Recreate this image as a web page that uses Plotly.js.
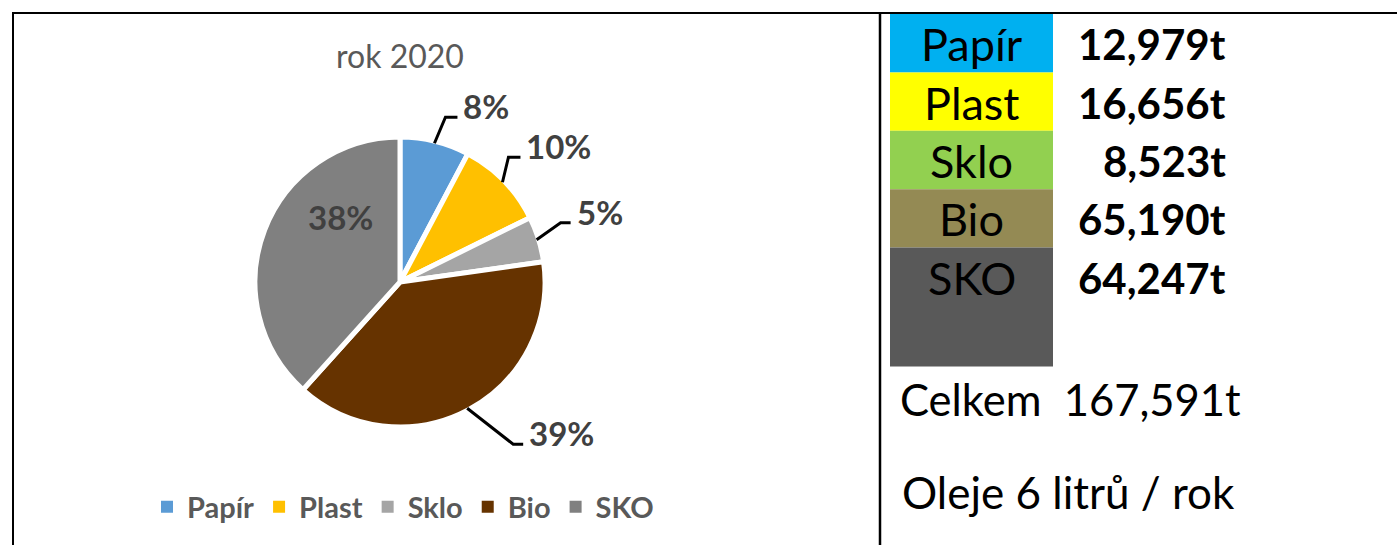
<!DOCTYPE html>
<html><head><meta charset="utf-8">
<script src="https://cdn.plot.ly/plotly-3.0.1.min.js"></script>
<style>html,body{margin:0;padding:0;background:#fff;overflow:hidden}</style>
</head><body><div id="chart" style="width:1397px;height:545px"></div>
<script>
// ---------- data ----------
const categories = ['Papír', 'Plast', 'Sklo', 'Bio', 'SKO'];
const tonnes = [12.979, 16.656, 8.523, 65.190, 64.247];
const tonneLabels = ['12,979t', '16,656t', '8,523t', '65,190t', '64,247t'];
const chartTitle = 'rok 2020';
const totalLabel = 'Celkem  167,591t';
const oilLabel = 'Oleje 6 litrů / rok';

// ---------- styles ----------
const sliceColors = ['#5B9BD5', '#FFC000', '#A5A5A5', '#663300', '#808080'];
const cellColors = ['#00B0F0', '#FFFF00', '#92D050', '#948A54', '#595959'];
const rowSpan = [1, 1, 1, 1, 2];
const FONT = 'Lato, "Open Sans", sans-serif';
const W = 1397, H = 545;
const CX = 400, CY = 282, R = 145;
// leader elbow offset from slice edge (px), horizontal run, or inside placement
const leader = [
  {dx: 11, dy: -26, run: 12},
  {dx: 6, dy: -25, run: 12},
  {dx: 24, dy: -17, run: 10},
  {dx: 46, dy: 36, run: 10},
  {inside: true, dx: -60, dy: -65}
];

const px = x => x / W;
const py = y => 1 - y / H;

const total = tonnes.reduce((a, b) => a + b, 0);
const shapes = [];
const annotations = [];

// percent labels + leader lines derived from the data
let cum = 0;
tonnes.forEach((v, i) => {
  const mid = 2 * Math.PI * (cum + v / 2) / total;
  cum += v;
  const pct = Math.round(v / total * 100) + '%';
  const L = leader[i];
  if (L.inside) {
    annotations.push({xref: 'paper', yref: 'paper', x: px(CX + L.dx), y: py(CY + L.dy),
      xanchor: 'center', yanchor: 'middle', showarrow: false, text: pct,
      font: {family: FONT, size: 33, color: '#404040', weight: 'bold'}});
    return;
  }
  const ex = CX + (R - 2) * Math.sin(mid), ey = CY - (R - 2) * Math.cos(mid);
  const bx = ex + L.dx, by = ey + L.dy;
  const hx = bx + L.run;
  shapes.push({type: 'path', xref: 'paper', yref: 'paper',
    path: `M${px(ex)},${py(ey)} L${px(bx)},${py(by)} L${px(hx)},${py(by)}`,
    line: {color: '#000', width: 3}});
  annotations.push({xref: 'paper', yref: 'paper', x: px(hx + 4), y: py(by - 11),
    xanchor: 'left', yanchor: 'middle', showarrow: false, text: pct,
    font: {family: FONT, size: 33, color: '#404040', weight: 'bold'}});
});

// table on the right
const cellX0 = 890, cellX1 = 1053, rowTop = 14, rowH = 58.4;
let rowY = rowTop;
categories.forEach((c, i) => {
  const h = rowH * rowSpan[i] + (rowSpan[i] > 1 ? 2 : 0);
  shapes.push({type: 'rect', xref: 'paper', yref: 'paper', layer: 'below',
    x0: px(cellX0), x1: px(cellX1), y0: py(rowY + h), y1: py(rowY),
    fillcolor: cellColors[i], line: {width: 0}});
  annotations.push({xref: 'paper', yref: 'paper', x: px((cellX0 + cellX1) / 2), y: py(rowY + rowH / 2 + 1),
    xanchor: 'center', yanchor: 'middle', showarrow: false, text: c,
    font: {family: FONT, size: 45, color: '#000'}});
  annotations.push({xref: 'paper', yref: 'paper', x: px(1228), y: py(rowY + rowH / 2 + 1),
    xanchor: 'right', yanchor: 'middle', showarrow: false, text: tonneLabels[i],
    font: {family: FONT, size: 42, color: '#000', weight: 'bold'}});
  rowY += h;
});
annotations.push({xref: 'paper', yref: 'paper', x: px(898), y: py(399),
  xanchor: 'left', yanchor: 'middle', showarrow: false, text: totalLabel,
  font: {family: FONT, size: 43.5, color: '#000'}});
annotations.push({xref: 'paper', yref: 'paper', x: px(900), y: py(492),
  xanchor: 'left', yanchor: 'middle', showarrow: false, text: oilLabel,
  font: {family: FONT, size: 44, color: '#000'}});

// borders
shapes.push({type: 'line', xref: 'paper', yref: 'paper', x0: px(12), x1: px(W), y0: py(13), y1: py(13), line: {color: '#000', width: 2}});
shapes.push({type: 'line', xref: 'paper', yref: 'paper', x0: px(13), x1: px(13), y0: py(13), y1: py(H), line: {color: '#000', width: 2}});
shapes.push({type: 'line', xref: 'paper', yref: 'paper', x0: px(880), x1: px(880), y0: py(13), y1: py(H), line: {color: '#000', width: 2.5}});

const trace = {
  type: 'pie',
  labels: categories,
  values: tonnes,
  sort: false,
  direction: 'clockwise',
  rotation: 0,
  textinfo: 'none',
  hoverinfo: 'none',
  showlegend: false,
  marker: {colors: sliceColors, line: {color: '#fff', width: 5}},
  domain: {x: [px(CX - R), px(CX + R)], y: [py(CY + R), py(CY - R)]}
};
// same data, drawn at zero size, so legend swatches have no white border
const legendTrace = {
  type: 'pie',
  labels: categories,
  values: tonnes,
  sort: false,
  textinfo: 'none',
  hoverinfo: 'none',
  showlegend: true,
  marker: {colors: sliceColors, line: {width: 0}},
  domain: {x: [0, 0.0002], y: [0, 0.0002]}
};

const layout = {
  width: W, height: H,
  margin: {l: 0, r: 0, t: 0, b: 0, autoexpand: false},
  paper_bgcolor: '#fff',
  title: {text: chartTitle, x: px(CX), xanchor: 'center', y: py(57), yanchor: 'middle',
    font: {family: FONT, size: 32, color: '#595959'}},
  showlegend: true,
  legend: {orientation: 'h', x: px(403), xanchor: 'center', y: py(507), yanchor: 'middle',
    font: {family: FONT, size: 29, color: '#595959', weight: 'bold'}, traceorder: 'normal'},
  shapes: shapes,
  annotations: annotations
};

Plotly.newPlot('chart', [trace, legendTrace], layout, {displayModeBar: false, staticPlot: true});
</script></body></html>
